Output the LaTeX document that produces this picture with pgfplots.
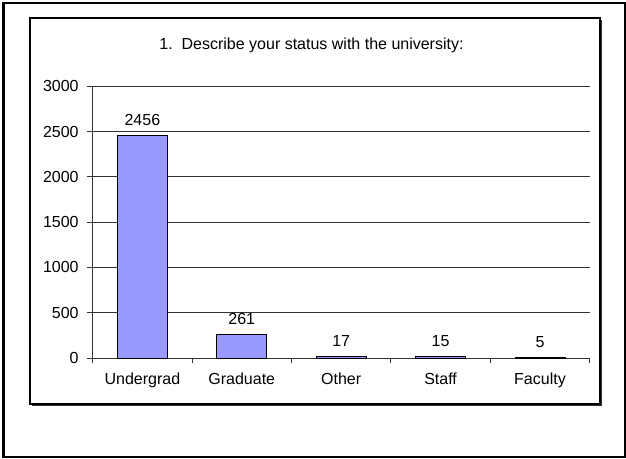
\documentclass[border=0pt]{standalone}
\usepackage{fontspec}
\setmainfont{Liberation Sans}
\usepackage{pgfplots}
\pgfplotsset{compat=1.18}
\definecolor{barfill}{HTML}{9999FF}
\begin{document}
\begin{tikzpicture}[x=0.75pt,y=-0.75pt]
\useasboundingbox (0,0) rectangle (626,458);
% outer border
\draw[line width=1.5pt] (3.5,3) rectangle (624.5,456.5);
% chart area with drop shadow
\draw[black!80, line width=1.2pt] (32,405.5) -- (601.5,405.5) -- (601.5,20);
\draw[black, line width=0.8pt] (30,18) rectangle (600,404);
% title
\node[font=\fontsize{12}{14}\selectfont] at (311.5,45) {1.\ \ Describe your status with the university:};
\begin{axis}[
  at={(69.5pt,-268.5pt)}, anchor=south west,
  scale only axis, width=372.75pt, height=203.8pt,
  ymin=0, ymax=3000, ytick={0,500,...,3000},
  xmin=-0.5, xmax=4.5,
  xtick={0,...,4},
  xticklabels={Undergrad,Graduate,Other,Staff,Faculty},
  minor xtick={-0.5,0.5,...,4.5},
  axis x line*=bottom, axis y line*=left,
  axis line style={black!80, line width=0.6pt},
  tick align=outside,
  major tick length=4.5pt, minor tick length=4pt,
  major x tick style={draw=none},
  every tick/.style={black!80, line width=0.6pt},
  ymajorgrids, grid style={black!80, line width=0.6pt},
  /pgf/number format/assume math mode=true,
  /pgf/number format/1000 sep={},
  tick label style={font=\fontsize{12}{14}\selectfont},
  yticklabel style={xshift=-2.5pt},
  xticklabel style={yshift=-3pt},
  ybar, bar width=37.5pt,
  nodes near coords,
  nodes near coords style={font=\fontsize{12}{14}\selectfont, inner sep=0pt, yshift=7pt, text=black},
]
\addplot[fill=barfill, draw=black, line width=0.6pt] coordinates {(0,2456) (1,261) (2,17) (3,15) (4,5)};
\end{axis}
\end{tikzpicture}
\end{document}
